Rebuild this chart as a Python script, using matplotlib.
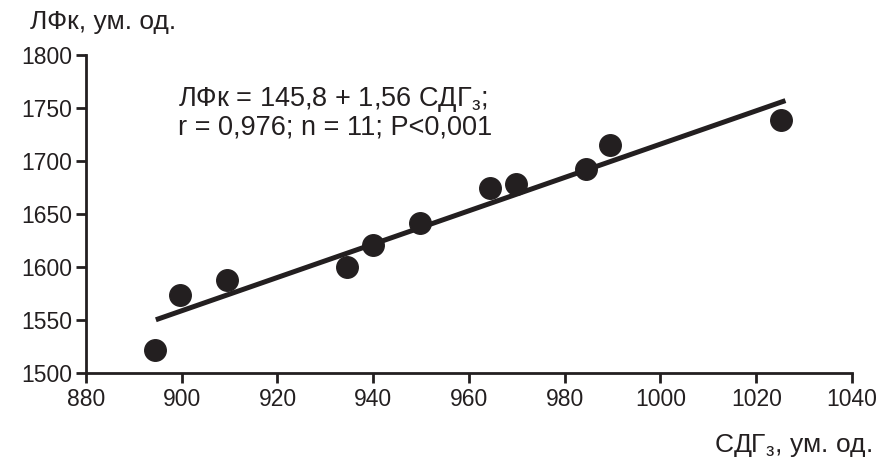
import numpy as np
import matplotlib.pyplot as plt

# ------------------------------------------------------------
# DATA
# ------------------------------------------------------------
sdg = [894.5, 899.6, 909.4, 934.6, 939.9, 949.7, 964.3, 969.8, 984.5, 989.4, 1025.2]
lfk = [1521, 1573, 1588, 1600, 1621, 1641, 1674, 1678, 1692, 1715, 1739]

# regression line as drawn (end points)
fit_x = [894.6, 1026.1]
fit_y = [1550, 1757]

x_ticks = [880, 900, 920, 940, 960, 980, 1000, 1020, 1040]
y_ticks = [1500, 1550, 1600, 1650, 1700, 1750, 1800]

INK = "#231f20"

plt.rcParams["font.family"] = ["Liberation Sans", "DejaVu Sans"]
plt.rcParams["mathtext.fontset"] = "custom"
plt.rcParams["mathtext.rm"] = "Liberation Sans"
plt.rcParams["mathtext.it"] = "Liberation Sans"

fig = plt.figure(figsize=(8.77, 4.59), dpi=100)
ax = fig.add_axes([0.098, 0.188, 0.8735, 0.692])

ax.plot(fit_x, fit_y, color=INK, lw=3.6, solid_capstyle="butt", zorder=2)
ax.plot(sdg, lfk, "o", color=INK, markersize=15.5, zorder=3)

ax.set_xlim(880, 1040)
ax.set_ylim(1500, 1800)
ax.set_xticks(x_ticks)
ax.set_yticks(y_ticks)

for s in ["top", "right"]:
    ax.spines[s].set_visible(False)
for s in ["left", "bottom"]:
    ax.spines[s].set_linewidth(2)
    ax.spines[s].set_color(INK)

ax.tick_params(axis="both", direction="out", length=7, width=2,
               color=INK, labelcolor=INK, labelsize=16.5)
ax.tick_params(axis="x", pad=4)
ax.tick_params(axis="y", pad=3)

ax.text(899.2, 1772, "ЛФк = 145,8 + 1,56 СДГ$_\\mathregular{з}$;\nr = 0,976; n = 11; P<0,001",
        fontsize=19.5, color=INK, va="top", ha="left", linespacing=1.05)

fig.text(0.034, 0.953, "ЛФк, ум. од.", fontsize=19, color=INK, va="center", ha="left")
fig.text(0.994, 0.03, "СДГ$_\\mathregular{з}$, ум. од.", fontsize=19, color=INK,
         va="center", ha="right")

fig.savefig("out.png", dpi=100)
